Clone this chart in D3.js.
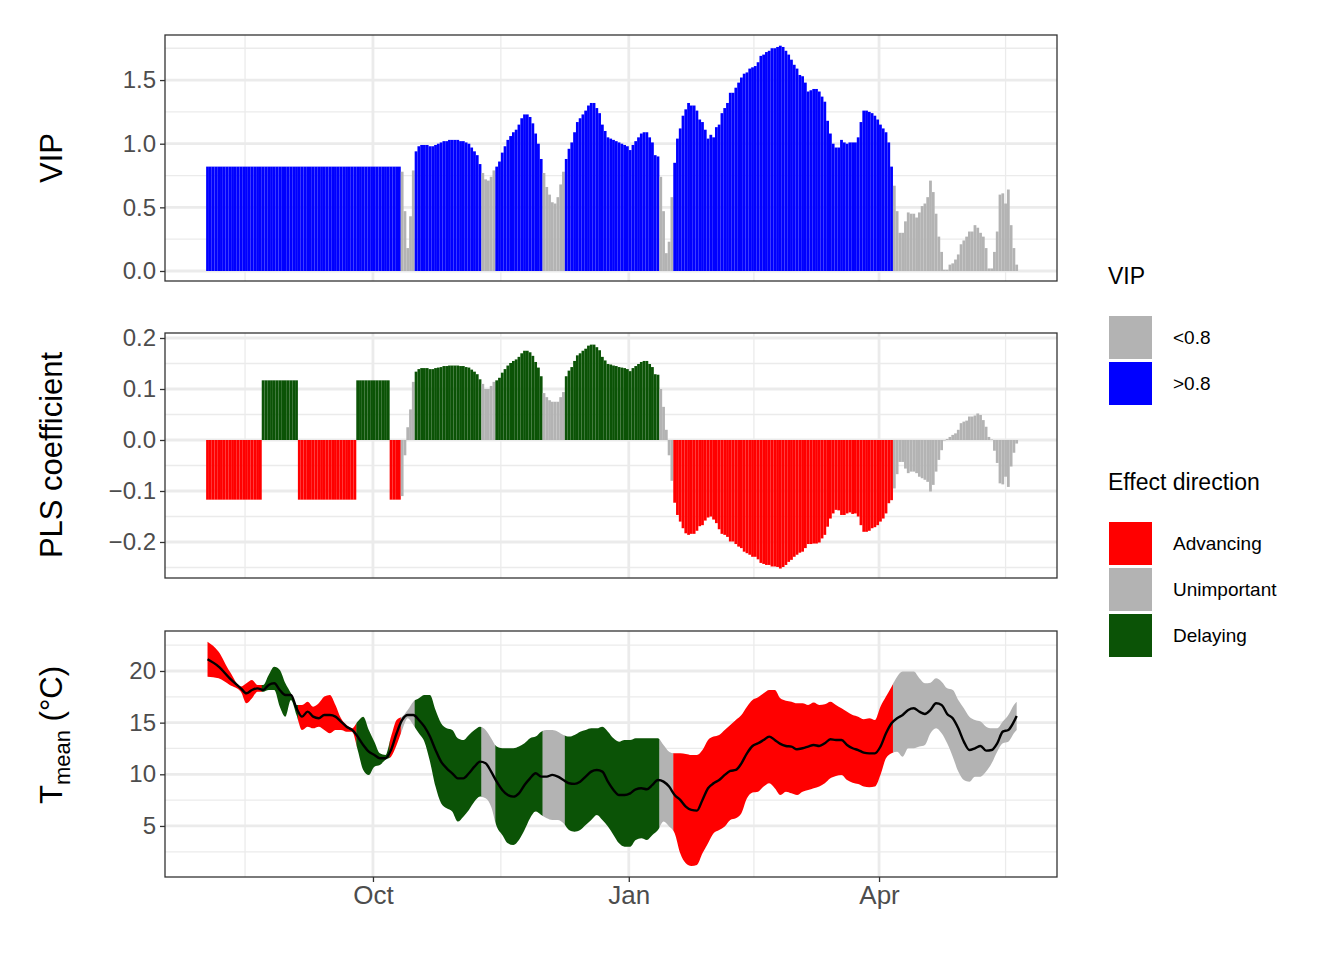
<!DOCTYPE html>
<html>
<meta charset="UTF-8">
<head>
<script src="https://d3js.org/d3.v7.min.js"></script>
<style>
  body { margin: 0; background: white; font-family: "Liberation Sans", Arial, sans-serif; }
</style>
</head>
<body>
<script>
// daily series, first day 2 Aug 2018
let startDate = new Date(2018, 7, 2);

let vip = [
  0.82,0.82,0.82,0.82,0.82,0.82,0.82,0.82,0.82,0.82, 0.82,0.82,0.82,0.82,0.82,0.82,0.82,0.82,0.82,0.82,
  0.82,0.82,0.82,0.82,0.82,0.82,0.82,0.82,0.82,0.82, 0.82,0.82,0.82,0.82,0.82,0.82,0.82,0.82,0.82,0.82,
  0.82,0.82,0.82,0.82,0.82,0.82,0.82,0.82,0.82,0.82, 0.82,0.82,0.82,0.82,0.82,0.82,0.82,0.82,0.82,0.82,
  0.82,0.82,0.82,0.82,0.82,0.82,0.82,0.82,0.82,0.82,
  0.78,0.47,0.18,0.43,0.79,
  0.94,0.98,0.99,0.99,0.99,0.98,0.98,0.99,1.00,1.01,1.02,1.02,1.03,1.03,1.03,1.03,1.02,1.02,1.01,1.00,0.97,0.94,0.91,0.84,
  0.77,0.72,0.71,0.74,0.79,
  0.82,0.86,0.93,0.98,1.03,1.06,1.09,1.11,1.15,1.20,1.23,1.23,1.21,1.16,1.08,1.00,0.88,
  0.77,0.66,0.60,0.54,0.53,0.58,0.68,0.78,
  0.88,0.96,1.01,1.09,1.17,1.20,1.23,1.26,1.30,1.32,1.32,1.28,1.24,1.15,1.10,1.05,1.04,1.03,1.02,1.01,
  1.00,0.99,0.98,0.95,0.99,1.02,1.05,1.08,1.09,1.09,1.05,1.01,0.91,0.90,
  0.74,0.47,0.14,0.23,0.58,
  0.85,1.04,1.12,1.22,1.27,1.32,1.30,1.30,1.26,1.19, 1.17,1.11,1.04,1.07,1.05,1.13,1.15,1.24,1.28,1.32,
  1.40,1.40,1.44,1.48,1.52,1.55,1.56,1.59,1.60,1.61, 1.64,1.69,1.70,1.72,1.73,1.75,1.75,1.76,1.77,1.76,
  1.73,1.70,1.66,1.62,1.59,1.54,1.53,1.48,1.41,1.42, 1.43,1.43,1.41,1.37,1.33,1.18,1.08,1.00,0.97,0.97,
  1.03,1.01,1.00,1.01,1.01,1.01,1.05,1.17,1.26,1.26, 1.25,1.24,1.22,1.19,1.15,1.12,1.09,1.01,0.82,
  0.67,0.47,0.30,0.30,0.39,0.46,0.45,0.45,0.42,0.46, 0.51,0.53,0.58,0.71,0.62,0.45,0.27,0.15,0.01,0.01,
  0.05,0.06,0.09,0.13,0.21,0.24,0.27,0.31,0.31,0.36, 0.34,0.30,0.27,0.18,0.02,0.02,0.15,0.31,0.60,0.61,
  0.53,0.64,0.36,0.18,0.05
];

let coef = [
  -0.117,-0.117,-0.117,-0.117,-0.117,-0.117,-0.117,-0.117,-0.117,-0.117,
  -0.117,-0.117,-0.117,-0.117,-0.117,-0.117,-0.117,-0.117,-0.117,-0.117,
  0.117,0.117,0.117,0.117,0.117,0.117,0.117,0.117,0.117,0.117,0.117,0.117,0.117,
  -0.117,-0.117,-0.117,-0.117,-0.117,-0.117,-0.117,-0.117,-0.117,-0.117,
  -0.117,-0.117,-0.117,-0.117,-0.117,-0.117,-0.117,-0.117,-0.117,-0.117,-0.117,
  0.117,0.117,0.117,0.117,0.117,0.117,0.117,0.117,0.117,0.117,0.117,0.117,
  -0.117,-0.117,-0.117,-0.117,
  -0.11,-0.03,0.025,0.06,0.114,
  0.134,0.139,0.141,0.141,0.141,0.139,0.139,0.141,0.142,0.143,0.145,0.145,0.146,0.146,0.146,0.146,0.145,0.145,0.143,0.142,0.138,0.134,0.129,0.119,
  0.11,0.10,0.10,0.106,0.114,
  0.117,0.122,0.132,0.139,0.146,0.151,0.155,0.158,0.163,0.170,0.175,0.175,0.172,0.165,0.153,0.142,0.125,
  0.092,0.084,0.078,0.075,0.075,0.075,0.084,0.094,
  0.125,0.136,0.143,0.155,0.166,0.170,0.175,0.179,0.185,0.187,0.187,0.182,0.176,0.163,0.156,0.149,0.148,0.146,0.145,0.143,
  0.142,0.141,0.139,0.135,0.141,0.145,0.149,0.153,0.155,0.155,0.149,0.143,0.129,0.128,
  0.10,0.065,0.02,-0.03,-0.08,
  -0.123,-0.147,-0.160,-0.173,-0.183,-0.186,-0.184,-0.184,-0.178,-0.169,
  -0.167,-0.158,-0.152,-0.150,-0.156,-0.163,-0.175,-0.184,-0.186,-0.190,
  -0.199,-0.199,-0.204,-0.209,-0.212,-0.219,-0.222,-0.225,-0.229,-0.229,
  -0.234,-0.241,-0.243,-0.245,-0.245,-0.248,-0.248,-0.249,-0.252,-0.249,
  -0.245,-0.239,-0.235,-0.229,-0.225,-0.221,-0.219,-0.212,-0.204,-0.204,
  -0.203,-0.203,-0.201,-0.193,-0.186,-0.170,-0.154,-0.144,-0.137,-0.138,
  -0.147,-0.147,-0.144,-0.142,-0.145,-0.144,-0.150,-0.167,-0.180,-0.180,
  -0.178,-0.173,-0.171,-0.167,-0.160,-0.154,-0.144,-0.124,-0.118,
  -0.095,-0.067,-0.043,-0.043,-0.056,-0.065,-0.062,-0.062,-0.065,-0.072,
  -0.075,-0.078,-0.082,-0.101,-0.088,-0.062,-0.039,-0.020,-0.001,0.002,
  0.006,0.010,0.013,0.020,0.033,0.036,0.038,0.046,0.046,0.048,
  0.052,0.049,0.039,0.026,0.006,0.001,-0.021,-0.045,-0.085,-0.087,
  -0.072,-0.092,-0.052,-0.025,-0.007
];

// temperature, sampled days (index from startDate)
let tDays = [0,4,8,12,14,16,18,20,22,24,26,28,30,32,34,36,38,40,42,44,46,48,50,52,54,56,58,60,62,64,66,68,70,72,74,76,78,80,
  82,84,86,88,90,92,94,96,98,100,102,104,106,108,110,112,114,116,118,120,122,124,126,128,130,132,134,136,138,140,142,144,146,148,150,152,154,156,158,160,162,
  164,166,168,170,172,174,176,178,180,182,184,186,188,190,192,194,196,198,200,202,204,206,208,210,212,214,216,218,220,222,224,226,228,230,232,234,236,238,240,
  242,244,246,248,250,252,254,256,258,260,262,264,266,268,270,272,274,276,278,280,282,284,286,288,290,291];
let tMean = [21.13,20.42,19.29,18.32,17.84,18.16,18.32,18.16,18.65,18.81,18.16,17.68,17.68,16.39,15.58,16.07,15.58,15.42,15.74,15.74,15.58,15.1,14.61,14.29,13.65,12.84,12.2,11.87,11.55,11.55,12.36,13.97,15.26,15.74,15.74,15.26,14.61,13.65,
  12.36,11.23,10.58,10.1,9.61,9.61,10.1,10.74,11.23,11.07,10.26,9.29,8.49,8.0,7.84,8.16,8.97,9.61,10.1,9.78,9.78,9.94,9.78,9.45,9.13,9.07,9.29,9.78,10.26,10.42,10.26,9.29,8.49,8.0,8.0,8.16,8.55,8.65,8.55,8.97,9.45,
  9.29,8.81,8.0,7.52,6.87,6.55,6.48,7.52,8.65,9.13,9.45,9.94,10.32,10.42,11.06,12.03,12.74,13.0,13.32,13.65,13.32,12.94,12.74,12.68,12.42,12.52,12.68,12.84,12.74,13.0,13.39,13.32,13.32,12.84,12.52,12.35,12.1,12.03,12.03,
  12.68,13.97,14.94,15.42,15.74,16.23,16.39,16.06,15.84,16.23,16.87,16.71,15.84,15.42,14.45,13.16,12.35,12.52,12.74,12.29,12.35,13.0,14.13,14.29,15.1,15.65];
let tHigh = [22.84,21.87,19.94,18.49,18.81,19.13,18.65,18.65,19.62,20.42,20.1,18.81,17.84,16.71,16.71,17.03,16.55,16.87,17.52,17.68,16.71,15.42,14.78,14.45,15.1,15.58,14.29,13.16,12.03,11.87,13.65,15.26,15.58,16.23,17.03,17.36,17.68,17.68,
  16.23,14.94,14.45,14.29,13.49,13.32,13.81,14.29,14.61,14.29,13.49,12.68,12.52,12.52,12.52,12.68,13.0,13.49,13.65,14.13,14.29,14.29,14.13,13.81,13.65,13.81,14.13,14.29,14.45,14.45,14.61,14.13,13.49,13.16,13.32,13.32,13.49,13.49,13.49,13.49,13.49,
  12.84,12.19,12.03,12.03,11.97,11.87,11.87,12.35,13.32,13.65,13.81,14.29,14.77,15.26,15.74,16.55,17.19,17.45,17.84,18.16,18.16,17.35,17.13,17.03,16.87,16.87,16.71,16.94,16.71,16.77,17.03,16.71,16.39,16.06,15.74,15.58,15.32,15.42,15.26,
  16.55,17.52,18.48,19.45,19.94,19.94,19.94,19.29,18.81,18.87,19.29,18.97,18.32,18.16,17.19,16.39,15.58,15.26,15.1,14.61,14.45,14.45,15.1,15.74,16.71,17.03];
let tLow = [19.45,19.29,18.65,18.0,16.87,17.36,18.0,18.0,18.16,18.16,16.55,15.58,17.2,15.74,14.29,14.61,14.45,14.61,14.29,13.97,14.29,14.29,14.13,14.13,12.36,10.42,9.94,10.74,10.9,11.4,11.71,12.84,14.29,15.42,14.78,13.97,13.16,11.23,
  8.81,7.2,6.71,6.39,5.42,5.9,6.55,7.36,7.84,7.68,6.87,4.94,4.13,3.32,3.16,3.65,4.61,5.74,6.39,6.07,5.74,5.58,5.58,5.26,4.61,4.45,4.61,5.1,5.58,6.07,5.58,4.94,4.13,3.32,3.0,3.0,3.65,3.81,3.65,4.13,4.61,
  5.42,4.94,4.29,2.35,1.39,1.13,1.23,2.35,3.32,4.29,4.61,4.94,5.58,5.74,6.23,7.68,8.23,8.32,8.81,9.13,8.65,8.0,8.32,8.16,8.0,8.32,8.48,8.65,8.81,9.13,9.61,9.84,9.94,9.45,9.19,9.06,8.81,8.74,8.81,
  9.94,11.55,12.03,12.19,11.71,12.52,12.52,12.68,12.84,13.97,14.45,13.97,13.0,11.71,10.26,9.45,9.29,9.77,9.77,10.26,11.06,12.19,13.0,13.16,13.97,14.29];

let vipTicks = [0, 0.5, 1, 1.5];
let coefTicks = [-0.2, -0.1, 0, 0.1, 0.2];
let tempTicks = [5, 10, 15, 20];
let monthTicks = [new Date(2018, 9, 1), new Date(2019, 0, 1), new Date(2019, 3, 1)];

let colBlue = "#0000ff", colGray = "#b3b3b3", colRed = "#ff0000", colGreen = "#0b5306";

let svg = d3.select("body").append("svg").attr("width", 1344).attr("height", 960);

let dayDate = i => d3.timeDay.offset(startDate, i);
let x = d3.scaleTime()
  .domain([new Date(2018, 6, 18, 5), new Date(2019, 5, 4, 0)])
  .range([165, 1057]);
let dayW = x(dayDate(1)) - x(dayDate(0));
let xc = i => x(dayDate(i)) + dayW / 2;

let days = vip.map((v, i) => i);
let cat = days.map(i => vip[i] < 0.8 ? colGray : (coef[i] < 0 ? colRed : colGreen));

// minor x breaks between quarterly majors
let allMajors = [new Date(2018, 6, 1)].concat(monthTicks, [new Date(2019, 6, 1)]);
let minorX = [];
for (let k = 0; k < allMajors.length - 1; k++) {
  minorX.push(new Date((allMajors[k].getTime() + allMajors[k + 1].getTime()) / 2));
}

function panel(top, bottom, y, ticks, minorStep) {
  let g = svg.append("g");
  g.append("rect").attr("x", 165).attr("y", top).attr("width", 892).attr("height", bottom - top).attr("fill", "white");
  let [lo, hi] = y.domain();
  let minors = [];
  for (let k = -10; k <= 10; k++) {
    let v = ticks[0] + minorStep * (2 * k + 1) / 2 * (ticks[1] - ticks[0]) / minorStep;
  }
  let step = ticks[1] - ticks[0];
  for (let v = ticks[0] - step / 2; v <= hi; v += step) if (v >= lo) minors.push(v);
  g.selectAll(".ymin").data(minors).join("line")
    .attr("x1", 165).attr("x2", 1057).attr("y1", d => y(d)).attr("y2", d => y(d))
    .attr("stroke", "#ebebeb").attr("stroke-width", 1.3);
  g.selectAll(".xmin").data(minorX).join("line")
    .attr("x1", d => x(d)).attr("x2", d => x(d)).attr("y1", top).attr("y2", bottom)
    .attr("stroke", "#ebebeb").attr("stroke-width", 1.3);
  g.selectAll(".ymaj").data(ticks).join("line")
    .attr("x1", 165).attr("x2", 1057).attr("y1", d => y(d)).attr("y2", d => y(d))
    .attr("stroke", "#ebebeb").attr("stroke-width", 2.8);
  g.selectAll(".xmaj").data(monthTicks).join("line")
    .attr("x1", d => x(d)).attr("x2", d => x(d)).attr("y1", top).attr("y2", bottom)
    .attr("stroke", "#ebebeb").attr("stroke-width", 2.8);
  return g;
}

function frame(g, top, bottom, y, ticks, fmt, showX) {
  g.append("rect").attr("x", 165).attr("y", top).attr("width", 892).attr("height", bottom - top)
    .attr("fill", "none").attr("stroke", "#333333").attr("stroke-width", 1.3);
  let ax = g.append("g").attr("transform", "translate(165,0)")
    .call(d3.axisLeft(y).tickValues(ticks).tickFormat(fmt).tickSize(5).tickPadding(4));
  ax.select(".domain").remove();
  ax.selectAll(".tick line").attr("stroke", "#333333").attr("stroke-width", 1.3);
  ax.selectAll(".tick text").attr("fill", "#4d4d4d").style("font-size", "24px")
    .style("font-family", "Liberation Sans, Arial, sans-serif");
  if (showX) {
    let bx = g.append("g").attr("transform", `translate(0,${bottom})`)
      .call(d3.axisBottom(x).tickValues(monthTicks).tickFormat(d3.timeFormat("%b")).tickSize(5).tickPadding(4));
    bx.select(".domain").remove();
    bx.selectAll(".tick line").attr("stroke", "#333333").attr("stroke-width", 1.3);
    bx.selectAll(".tick text").attr("fill", "#4d4d4d").style("font-size", "26px")
      .style("font-family", "Liberation Sans, Arial, sans-serif");
  }
}

// VIP panel
let yVip = d3.scaleLinear().domain([-0.0786, 1.854]).range([281, 35]);
let g1 = panel(35, 281, yVip, vipTicks, 0.25);
g1.selectAll(".bar").data(days).join("rect")
  .attr("x", i => x(dayDate(i))).attr("width", dayW)
  .attr("y", i => yVip(vip[i])).attr("height", i => yVip(0) - yVip(vip[i]))
  .attr("fill", i => vip[i] < 0.8 ? colGray : colBlue);
frame(g1, 35, 281, yVip, vipTicks, d3.format(".1f"), false);

// PLS coefficient panel
let yCoef = d3.scaleLinear().domain([-0.2706, 0.2098]).range([578, 333]);
let g2 = panel(333, 578, yCoef, coefTicks, 0.05);
g2.selectAll(".bar").data(days).join("rect")
  .attr("x", i => x(dayDate(i))).attr("width", dayW)
  .attr("y", i => Math.min(yCoef(coef[i]), yCoef(0))).attr("height", i => Math.abs(yCoef(0) - yCoef(coef[i])))
  .attr("fill", i => cat[i]);
frame(g2, 333, 578, yCoef, coefTicks, d3.format(".1f"), false);

// Temperature panel
let yT = d3.scaleLinear().domain([0.06, 23.87]).range([877, 631]);
let g3 = panel(631, 877, yT, tempTicks, 2.5);
let tPts = tDays.map((d, k) => ({d: d, m: tMean[k], h: tHigh[k], l: tLow[k]}));
let area = d3.area().x(p => xc(p.d)).y0(p => yT(p.l)).y1(p => yT(p.h)).curve(d3.curveMonotoneX);
// runs of equal category
let runs = [];
days.forEach(i => {
  if (runs.length && runs[runs.length - 1].col == cat[i]) runs[runs.length - 1].end = i;
  else runs.push({col: cat[i], start: i, end: i});
});
let defs = svg.append("defs");
runs.forEach((r, k) => {
  let x0 = r.start == 0 ? 165 : xc(r.start) - dayW / 2;
  let x1 = r.end == days.length - 1 ? 1057 : xc(r.end) + dayW / 2;
  defs.append("clipPath").attr("id", "run" + k).append("rect")
    .attr("x", x0).attr("y", 631).attr("width", x1 - x0 + 0.3).attr("height", 246);
  g3.append("path").datum(tPts).attr("d", area).attr("fill", r.col).attr("clip-path", `url(#run${k})`);
});
g3.append("path").datum(tPts)
  .attr("d", d3.line().x(p => xc(p.d)).y(p => yT(p.m)).curve(d3.curveMonotoneX))
  .attr("fill", "none").attr("stroke", "black").attr("stroke-width", 2.4);
frame(g3, 631, 877, yT, tempTicks, d3.format("d"), true);

// axis titles
let titleFont = "Liberation Sans, Arial, sans-serif";
svg.append("text").attr("transform", "translate(62,158) rotate(-90)").attr("text-anchor", "middle")
  .style("font-size", "31px").style("font-family", titleFont).text("VIP");
svg.append("text").attr("transform", "translate(62,455) rotate(-90)").attr("text-anchor", "middle")
  .style("font-size", "31px").style("font-family", titleFont).text("PLS coefficient");
let tt = svg.append("text").attr("transform", "translate(62,735) rotate(-90)").attr("text-anchor", "middle")
  .style("font-size", "31px").style("font-family", titleFont);
tt.append("tspan").text("T");
tt.append("tspan").attr("dy", 8).style("font-size", "22px").text("mean");
tt.append("tspan").attr("dy", -8).text(" (°C)");

// legends
function legend(title, ty, items) {
  svg.append("text").attr("x", 1108).attr("y", ty).style("font-size", "23px").style("font-family", titleFont).text(title);
  items.forEach((it, k) => {
    let top = ty + 32 + k * 46;
    svg.append("rect").attr("x", 1109).attr("y", top).attr("width", 43).attr("height", 43).attr("fill", it[1]);
    svg.append("text").attr("x", 1173).attr("y", top + 28).style("font-size", "19px").style("font-family", titleFont).text(it[0]);
  });
}
legend("VIP", 284, [["<0.8", colGray], [">0.8", colBlue]]);
legend("Effect direction", 490, [["Advancing", colRed], ["Unimportant", colGray], ["Delaying", colGreen]]);
</script>
</body>
</html>
